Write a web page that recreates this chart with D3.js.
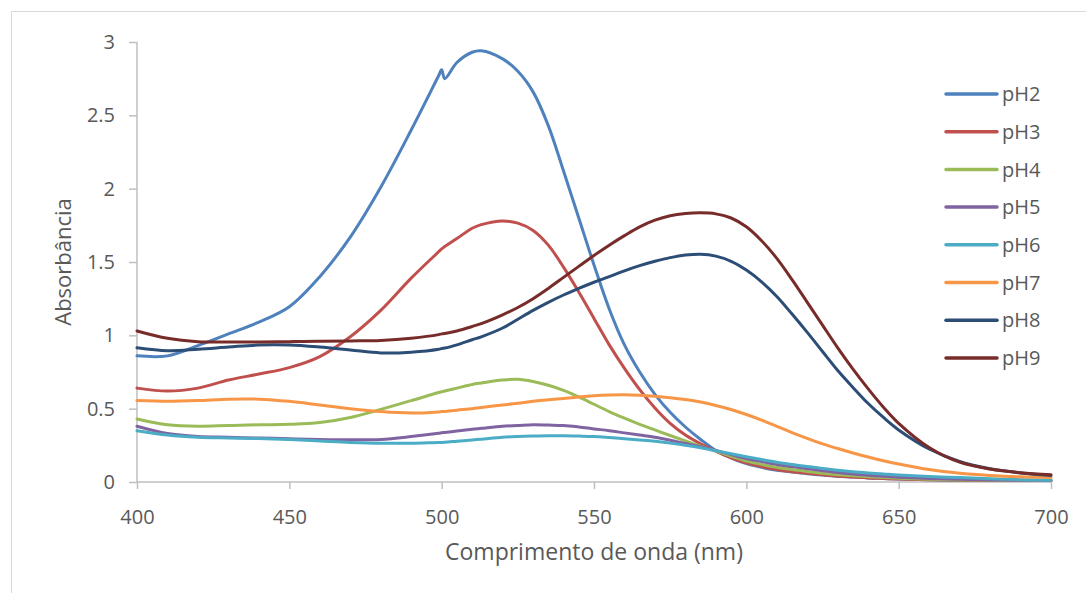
<!DOCTYPE html>
<html>
<head>
<meta charset="utf-8">
<script src="https://cdn.jsdelivr.net/npm/d3@7"></script>
<style>
  body { margin: 0; background: #fff; }
  text { font-family: "Open Sans", "Noto Sans", sans-serif; fill: #595959; }
</style>
</head>
<body>
<div id="chart"></div>
<script>
// wavelengths (nm)
var wl = [400, 410, 420, 430, 440, 450, 460, 470, 480, 490, 499, 500, 501, 505, 510, 513,
          520, 525, 530, 535, 540, 545, 550, 555, 560, 565, 570, 575, 580, 585, 590, 595,
          600, 605, 610, 615, 620, 625, 630, 635, 640, 645, 650, 660, 670, 680, 690, 700];

var pH2 = [0.86, 0.86, 0.93, 1.01, 1.09, 1.195, 1.40, 1.67, 2.01, 2.40, 2.77, 2.81, 2.75, 2.86, 2.93, 2.94,
           2.885, 2.80, 2.66, 2.43, 2.12, 1.80, 1.48, 1.18, 0.935, 0.75, 0.598, 0.475, 0.375, 0.29, 0.215, 0.165,
           0.125, 0.10, 0.08, 0.068, 0.057, 0.048, 0.04, 0.034, 0.028, 0.024, 0.02, 0.015, 0.012, 0.01, 0.01, 0.01];
var pH3 = [0.64, 0.62, 0.64, 0.695, 0.736, 0.78, 0.855, 0.99, 1.17, 1.39, 1.57, 1.59, 1.605, 1.66, 1.73, 1.755,
           1.78, 1.765, 1.715, 1.615, 1.465, 1.295, 1.115, 0.935, 0.775, 0.63, 0.505, 0.40, 0.32, 0.26, 0.21, 0.165,
           0.13, 0.105, 0.085, 0.07, 0.06, 0.05, 0.04, 0.034, 0.028, 0.024, 0.02, 0.015, 0.012, 0.01, 0.01, 0.01];
var pH4 = [0.43, 0.39, 0.38, 0.385, 0.39, 0.393, 0.405, 0.44, 0.495, 0.555, 0.61, 0.615, 0.62, 0.64, 0.665, 0.675,
           0.695, 0.70, 0.685, 0.66, 0.625, 0.58, 0.53, 0.48, 0.435, 0.393, 0.355, 0.317, 0.28, 0.245, 0.21, 0.175,
           0.143, 0.12, 0.10, 0.085, 0.072, 0.06, 0.05, 0.042, 0.035, 0.03, 0.025, 0.018, 0.014, 0.012, 0.01, 0.01];
var pH5 = [0.38, 0.33, 0.31, 0.305, 0.30, 0.295, 0.29, 0.288, 0.29, 0.31, 0.333, 0.336, 0.338, 0.348, 0.36, 0.366,
           0.38, 0.385, 0.39, 0.388, 0.385, 0.375, 0.362, 0.35, 0.335, 0.32, 0.305, 0.285, 0.262, 0.24, 0.215, 0.187,
           0.16, 0.14, 0.12, 0.105, 0.09, 0.077, 0.065, 0.055, 0.046, 0.039, 0.033, 0.024, 0.018, 0.014, 0.012, 0.01];
var pH6 = [0.35, 0.32, 0.305, 0.30, 0.297, 0.29, 0.28, 0.27, 0.264, 0.265, 0.27, 0.27, 0.271, 0.278, 0.287, 0.292,
           0.305, 0.31, 0.313, 0.315, 0.315, 0.313, 0.31, 0.303, 0.295, 0.287, 0.278, 0.265, 0.25, 0.233, 0.213, 0.192,
           0.172, 0.153, 0.135, 0.12, 0.105, 0.092, 0.08, 0.07, 0.062, 0.055, 0.048, 0.038, 0.03, 0.022, 0.016, 0.012];
var pH7 = [0.555, 0.55, 0.555, 0.565, 0.565, 0.55, 0.525, 0.50, 0.48, 0.47, 0.478, 0.48, 0.481, 0.49, 0.50, 0.508,
           0.525, 0.537, 0.55, 0.56, 0.57, 0.58, 0.588, 0.593, 0.595, 0.592, 0.585, 0.575, 0.562, 0.545, 0.522, 0.494,
           0.46, 0.422, 0.38, 0.337, 0.297, 0.26, 0.228, 0.198, 0.17, 0.145, 0.123, 0.085, 0.06, 0.045, 0.035, 0.03];
var pH8 = [0.915, 0.895, 0.905, 0.92, 0.934, 0.934, 0.92, 0.90, 0.88, 0.885, 0.905, 0.91, 0.913, 0.935, 0.97, 0.99,
           1.05, 1.11, 1.17, 1.225, 1.275, 1.32, 1.362, 1.40, 1.44, 1.475, 1.505, 1.53, 1.547, 1.553, 1.54, 1.505,
           1.445, 1.365, 1.265, 1.145, 1.02, 0.89, 0.76, 0.645, 0.535, 0.44, 0.355, 0.225, 0.14, 0.09, 0.062, 0.045];
var pH9 = [1.03, 0.98, 0.957, 0.955, 0.955, 0.957, 0.96, 0.962, 0.965, 0.98, 1.005, 1.01, 1.013, 1.03, 1.06, 1.08,
           1.14, 1.19, 1.25, 1.32, 1.395, 1.47, 1.545, 1.615, 1.68, 1.74, 1.785, 1.815, 1.83, 1.835, 1.828, 1.80,
           1.74, 1.645, 1.525, 1.38, 1.225, 1.07, 0.915, 0.77, 0.635, 0.51, 0.40, 0.235, 0.135, 0.088, 0.063, 0.05];

var seriesNames = ["pH2", "pH3", "pH4", "pH5", "pH6", "pH7", "pH8", "pH9"];
var seriesValues = [pH2, pH3, pH4, pH5, pH6, pH7, pH8, pH9];
var colors = ["#4F81BD", "#C0504D", "#9BBB59", "#8064A2", "#4BACC6", "#F79646", "#2C4D75", "#772C2A"];

var xTicks = [400, 450, 500, 550, 600, 650, 700];
var yTicks = [0, 0.5, 1, 1.5, 2, 2.5, 3];

var W = 1086, H = 593;
var margin = {top: 42, left: 137, right: 35, bottom: 111};

var svg = d3.select("#chart")
    .append("svg")
        .attr("width", W)
        .attr("height", H);

// outer frame
svg.append("rect")
    .attr("x", 11.5).attr("y", 11.5)
    .attr("width", W).attr("height", H)
    .attr("fill", "none")
    .attr("stroke", "#d9d9d9");

var x = d3.scaleLinear()
    .domain([400, 700])
    .range([margin.left, W - margin.right]);

var y = d3.scaleLinear()
    .domain([0, 3])
    .range([H - margin.bottom, margin.top]);

// X axis
var xAxis = svg.append("g")
    .attr("transform", "translate(0," + y(0) + ")")
    .call(d3.axisBottom(x).tickValues(xTicks).tickSize(7).tickPadding(21).tickFormat(d3.format("d")));

// Y axis
var yAxis = svg.append("g")
    .attr("transform", "translate(" + x(400) + ",0)")
    .call(d3.axisLeft(y).tickValues(yTicks).tickSize(8).tickPadding(14).tickFormat(function(d) { return d; }));

[xAxis, yAxis].forEach(function(a) {
    a.select(".domain").attr("stroke", "#bfbfbf").attr("stroke-width", 1.5);
    a.selectAll(".tick line").attr("stroke", "#bfbfbf").attr("stroke-width", 1.5);
    a.selectAll(".tick text").attr("font-size", "20px").attr("fill", "#595959")
        .style("font-family", "'Open Sans', 'Noto Sans', sans-serif");
});
xAxis.select(".domain").attr("d", "M" + x(400) + ",0H" + x(700));
yAxis.select(".domain").attr("d", "M0," + y(0) + "V" + y(3));

// lines
var line = d3.line()
    .x(function(d) { return x(d[0]); })
    .y(function(d) { return y(d[1]); })
    .curve(d3.curveCatmullRom.alpha(0.5));

seriesValues.forEach(function(vals, i) {
    var pts = wl.map(function(w, j) { return [w, vals[j]]; });
    svg.append("path")
        .datum(pts)
        .attr("d", line)
        .attr("fill", "none")
        .attr("stroke", colors[i])
        .attr("stroke-width", 3)
        .attr("stroke-linejoin", "round")
        .attr("stroke-linecap", "round");
});

// axis titles
svg.append("text")
    .attr("x", (x(400) + x(700)) / 2)
    .attr("y", 560)
    .attr("text-anchor", "middle")
    .attr("font-size", "23px")
    .text("Comprimento de onda (nm)");

svg.append("text")
    .attr("transform", "translate(71," + ((y(0) + y(3)) / 2) + ") rotate(-90)")
    .attr("text-anchor", "middle")
    .attr("font-size", "22px")
    .text("Absorbância");

// legend
var legend = svg.append("g");
seriesNames.forEach(function(name, i) {
    var ly = 94 + i * 37.7;
    legend.append("line")
        .attr("x1", 946).attr("x2", 997)
        .attr("y1", ly).attr("y2", ly)
        .attr("stroke", colors[i])
        .attr("stroke-width", 3.5)
        .attr("stroke-linecap", "round");
    legend.append("text")
        .attr("x", 1002)
        .attr("y", ly)
        .attr("dy", "0.36em")
        .attr("font-size", "20px")
        .text(name);
});
</script>
</body>
</html>
